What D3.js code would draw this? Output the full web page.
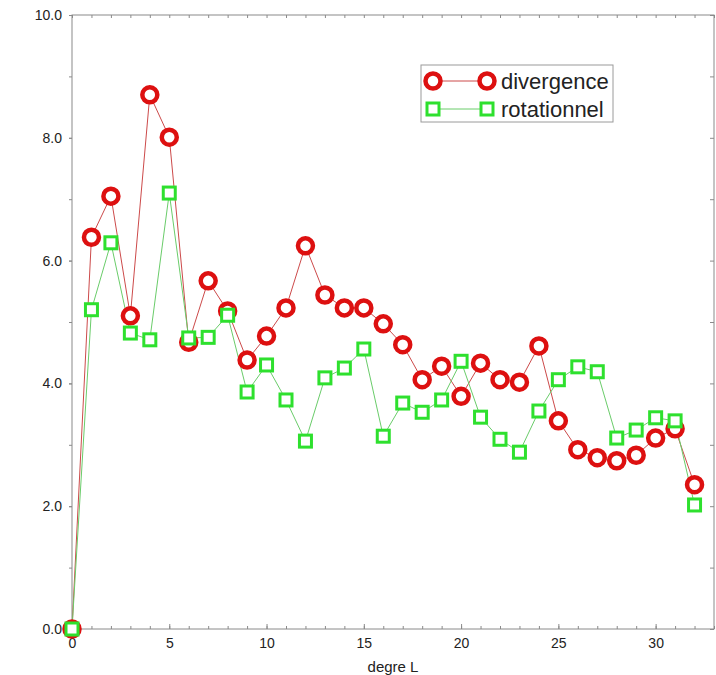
<!DOCTYPE html>
<html>
<head>
<meta charset="utf-8">
<script src="https://cdn.jsdelivr.net/npm/d3@7"></script>
<style>
  html, body { margin: 0; padding: 0; background: #fff; }
  svg { display: block; font-family: "Liberation Sans", Arial, Helvetica, sans-serif; }
</style>
</head>
<body>
<svg id="chart" width="716" height="675"></svg>
<script>
// Degree L on the x axis
const degrees = d3.range(0, 33);

// Spectrum values per degree
const divergence = [
  0.00, 6.38, 7.05, 5.10, 8.70, 8.01, 4.67, 5.67, 5.18, 4.38,
  4.77, 5.23, 6.24, 5.44, 5.23, 5.23, 4.97, 4.63, 4.06, 4.28,
  3.79, 4.33, 4.06, 4.02, 4.61, 3.39, 2.92, 2.79, 2.74, 2.83,
  3.11, 3.26, 2.35
];
const rotationnel = [
  0.00, 5.20, 6.29, 4.82, 4.71, 7.10, 4.74, 4.75, 5.11, 3.86,
  4.30, 3.73, 3.06, 4.09, 4.25, 4.56, 3.14, 3.68, 3.53, 3.73,
  4.36, 3.45, 3.09, 2.88, 3.55, 4.06, 4.27, 4.19, 3.11, 3.24,
  3.44, 3.39, 2.02
];

const seriesNames = ["divergence", "rotationnel"];
const xTickValues = [0, 5, 10, 15, 20, 25, 30];
const yTickValues = [0, 2, 4, 6, 8, 10];
const xLabel = "degre L";

const svg = d3.select("#chart");
const plot = { left: 72, right: 714, top: 15, bottom: 629 };

const x = d3.scaleLinear().domain([0, 33]).range([plot.left, plot.right]);
const y = d3.scaleLinear().domain([0, 10]).range([plot.bottom, plot.top]);

const axisColor = "#8a8a8a";
const textColor = "#222";

// Frame
svg.append("rect")
  .attr("x", plot.left).attr("y", plot.top)
  .attr("width", plot.right - plot.left).attr("height", plot.bottom - plot.top)
  .attr("fill", "none").attr("stroke", axisColor).attr("stroke-width", 1);

function styleAxis(g) {
  g.select(".domain").remove();
  g.selectAll(".tick line").attr("stroke", axisColor);
  g.selectAll(".tick text").attr("fill", textColor)
    .style("font-family", "'Liberation Sans', Arial, sans-serif");
}

// Bottom axis: labelled majors, integer minors (ticks point inward)
svg.append("g").attr("transform", `translate(0,${plot.bottom})`)
  .call(d3.axisBottom(x).tickValues(d3.range(0, 34)).tickSize(-3).tickFormat(""))
  .call(styleAxis);
svg.append("g").attr("transform", `translate(0,${plot.bottom})`)
  .call(d3.axisBottom(x).tickValues(xTickValues).tickSize(-5).tickPadding(9).tickFormat(d3.format("d")))
  .call(styleAxis)
  .call(g => g.selectAll(".tick text").attr("font-size", 14));

// Top axis: minor ticks only
svg.append("g").attr("transform", `translate(0,${plot.top})`)
  .call(d3.axisTop(x).tickValues(d3.range(0, 34)).tickSize(-3).tickFormat(""))
  .call(styleAxis);

// Left axis
svg.append("g").attr("transform", `translate(${plot.left},0)`)
  .call(d3.axisLeft(y).tickValues(d3.range(0, 11)).tickSize(3).tickFormat(""))
  .call(styleAxis);
svg.append("g").attr("transform", `translate(${plot.left},0)`)
  .call(d3.axisLeft(y).tickValues(yTickValues).tickSize(3).tickPadding(7).tickFormat(d3.format(".1f")))
  .call(styleAxis)
  .call(g => g.selectAll(".tick text").attr("font-size", 14));

// Right axis: minor ticks pointing inward
svg.append("g").attr("transform", `translate(${plot.right},0)`)
  .call(d3.axisRight(y).tickValues(d3.range(0, 11)).tickSize(-4).tickFormat(""))
  .call(styleAxis);

// X axis title
svg.append("text")
  .attr("x", (plot.left + plot.right) / 2).attr("y", 672)
  .attr("text-anchor", "middle")
  .attr("font-size", 15).attr("fill", textColor)
  .text(xLabel);

const redLine = "#cc4a4a", redMark = "#dd1010";
const greenLine = "#6acc6a", greenMark = "#2ee02e";

const line = d3.line().x((d, i) => x(degrees[i])).y(d => y(d));

svg.append("path").datum(divergence)
  .attr("d", line).attr("fill", "none")
  .attr("stroke", redLine).attr("stroke-width", 1);
svg.append("path").datum(rotationnel)
  .attr("d", line).attr("fill", "none")
  .attr("stroke", greenLine).attr("stroke-width", 1);

svg.append("g").selectAll("circle").data(divergence).join("circle")
  .attr("cx", (d, i) => x(degrees[i])).attr("cy", d => y(d))
  .attr("r", 7.5).attr("fill", "#fff")
  .attr("stroke", redMark).attr("stroke-width", 4.5);

const sq = 12;
svg.append("g").selectAll("rect").data(rotationnel).join("rect")
  .attr("x", (d, i) => x(degrees[i]) - sq / 2).attr("y", d => y(d) - sq / 2)
  .attr("width", sq).attr("height", sq).attr("fill", "#fff")
  .attr("stroke", greenMark).attr("stroke-width", 3);

// Legend
const legend = svg.append("g");
legend.append("rect")
  .attr("x", 421).attr("y", 65).attr("width", 192).attr("height", 57)
  .attr("fill", "#fff").attr("stroke", "#9a9a9a").attr("stroke-width", 1);

const legendRows = [
  { name: seriesNames[0], y: 81, lc: redLine, mc: redMark, shape: "circle" },
  { name: seriesNames[1], y: 109, lc: greenLine, mc: greenMark, shape: "square" }
];
legendRows.forEach(r => {
  legend.append("line")
    .attr("x1", 433).attr("x2", 487).attr("y1", r.y).attr("y2", r.y)
    .attr("stroke", r.lc).attr("stroke-width", 1);
  [433, 487].forEach(cx => {
    if (r.shape === "circle") {
      legend.append("circle").attr("cx", cx).attr("cy", r.y).attr("r", 7.5)
        .attr("fill", "#fff").attr("stroke", r.mc).attr("stroke-width", 4.5);
    } else {
      legend.append("rect").attr("x", cx - sq / 2).attr("y", r.y - sq / 2)
        .attr("width", sq).attr("height", sq)
        .attr("fill", "#fff").attr("stroke", r.mc).attr("stroke-width", 3);
    }
  });
  legend.append("text")
    .attr("x", 501).attr("y", r.y + 8)
    .attr("font-size", 22).attr("fill", textColor)
    .text(r.name);
});
</script>
</body>
</html>
